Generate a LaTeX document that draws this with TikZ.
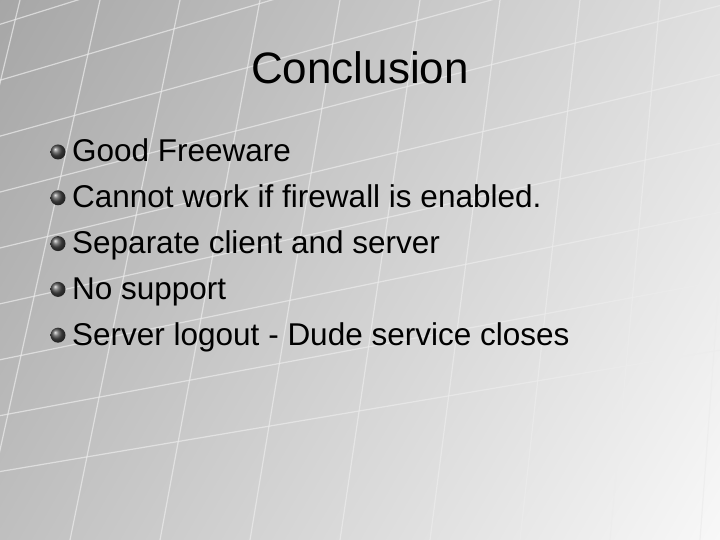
\documentclass[tikz,border=0pt]{standalone}
\usepackage{fontspec}
\setmainfont{Liberation Sans}
\begin{document}
\begin{tikzpicture}[x=1pt,y=1pt,
  gridline/.style={white!85!gray,line width=1.2pt,opacity=0.7},
  bul/.style={circle,minimum size=15pt,inner sep=0pt,ball color=gray!60!black},
  item/.style={anchor=base west,font=\fontsize{31.5}{34}\selectfont,inner sep=0pt}]
\useasboundingbox (0,0) rectangle (720,540);
\shade[left color=gray!75,right color=white,shading angle=60] (-200,-200) rectangle (920,740);
\begin{scope}
\clip (0,0) rectangle (720,540);
\foreach \i in {0,...,9}{
  \draw[gridline] (-50,{60+\i*55}) -- (780,{200+\i*70});
}
\foreach \i in {0,...,12}{
  \draw[gridline] ({-200+\i*90},0) -- ({-60+\i*80},540);
}
\end{scope}
\node[anchor=base,font=\fontsize{44}{48}\selectfont] (title) at (360,456) {Conclusion};
\foreach \t [count=\k] in {Good Freeware,Cannot work if firewall is enabled.,Separate client and server,No support,Server logout - Dude service closes}{
  \node[bul] (b\k) at (58,{540-152-(\k-1)*45.8}) {};
  \node[item] (t\k) at (72,{540-162-(\k-1)*45.8}) {\t};
}
\end{tikzpicture}
\end{document}
